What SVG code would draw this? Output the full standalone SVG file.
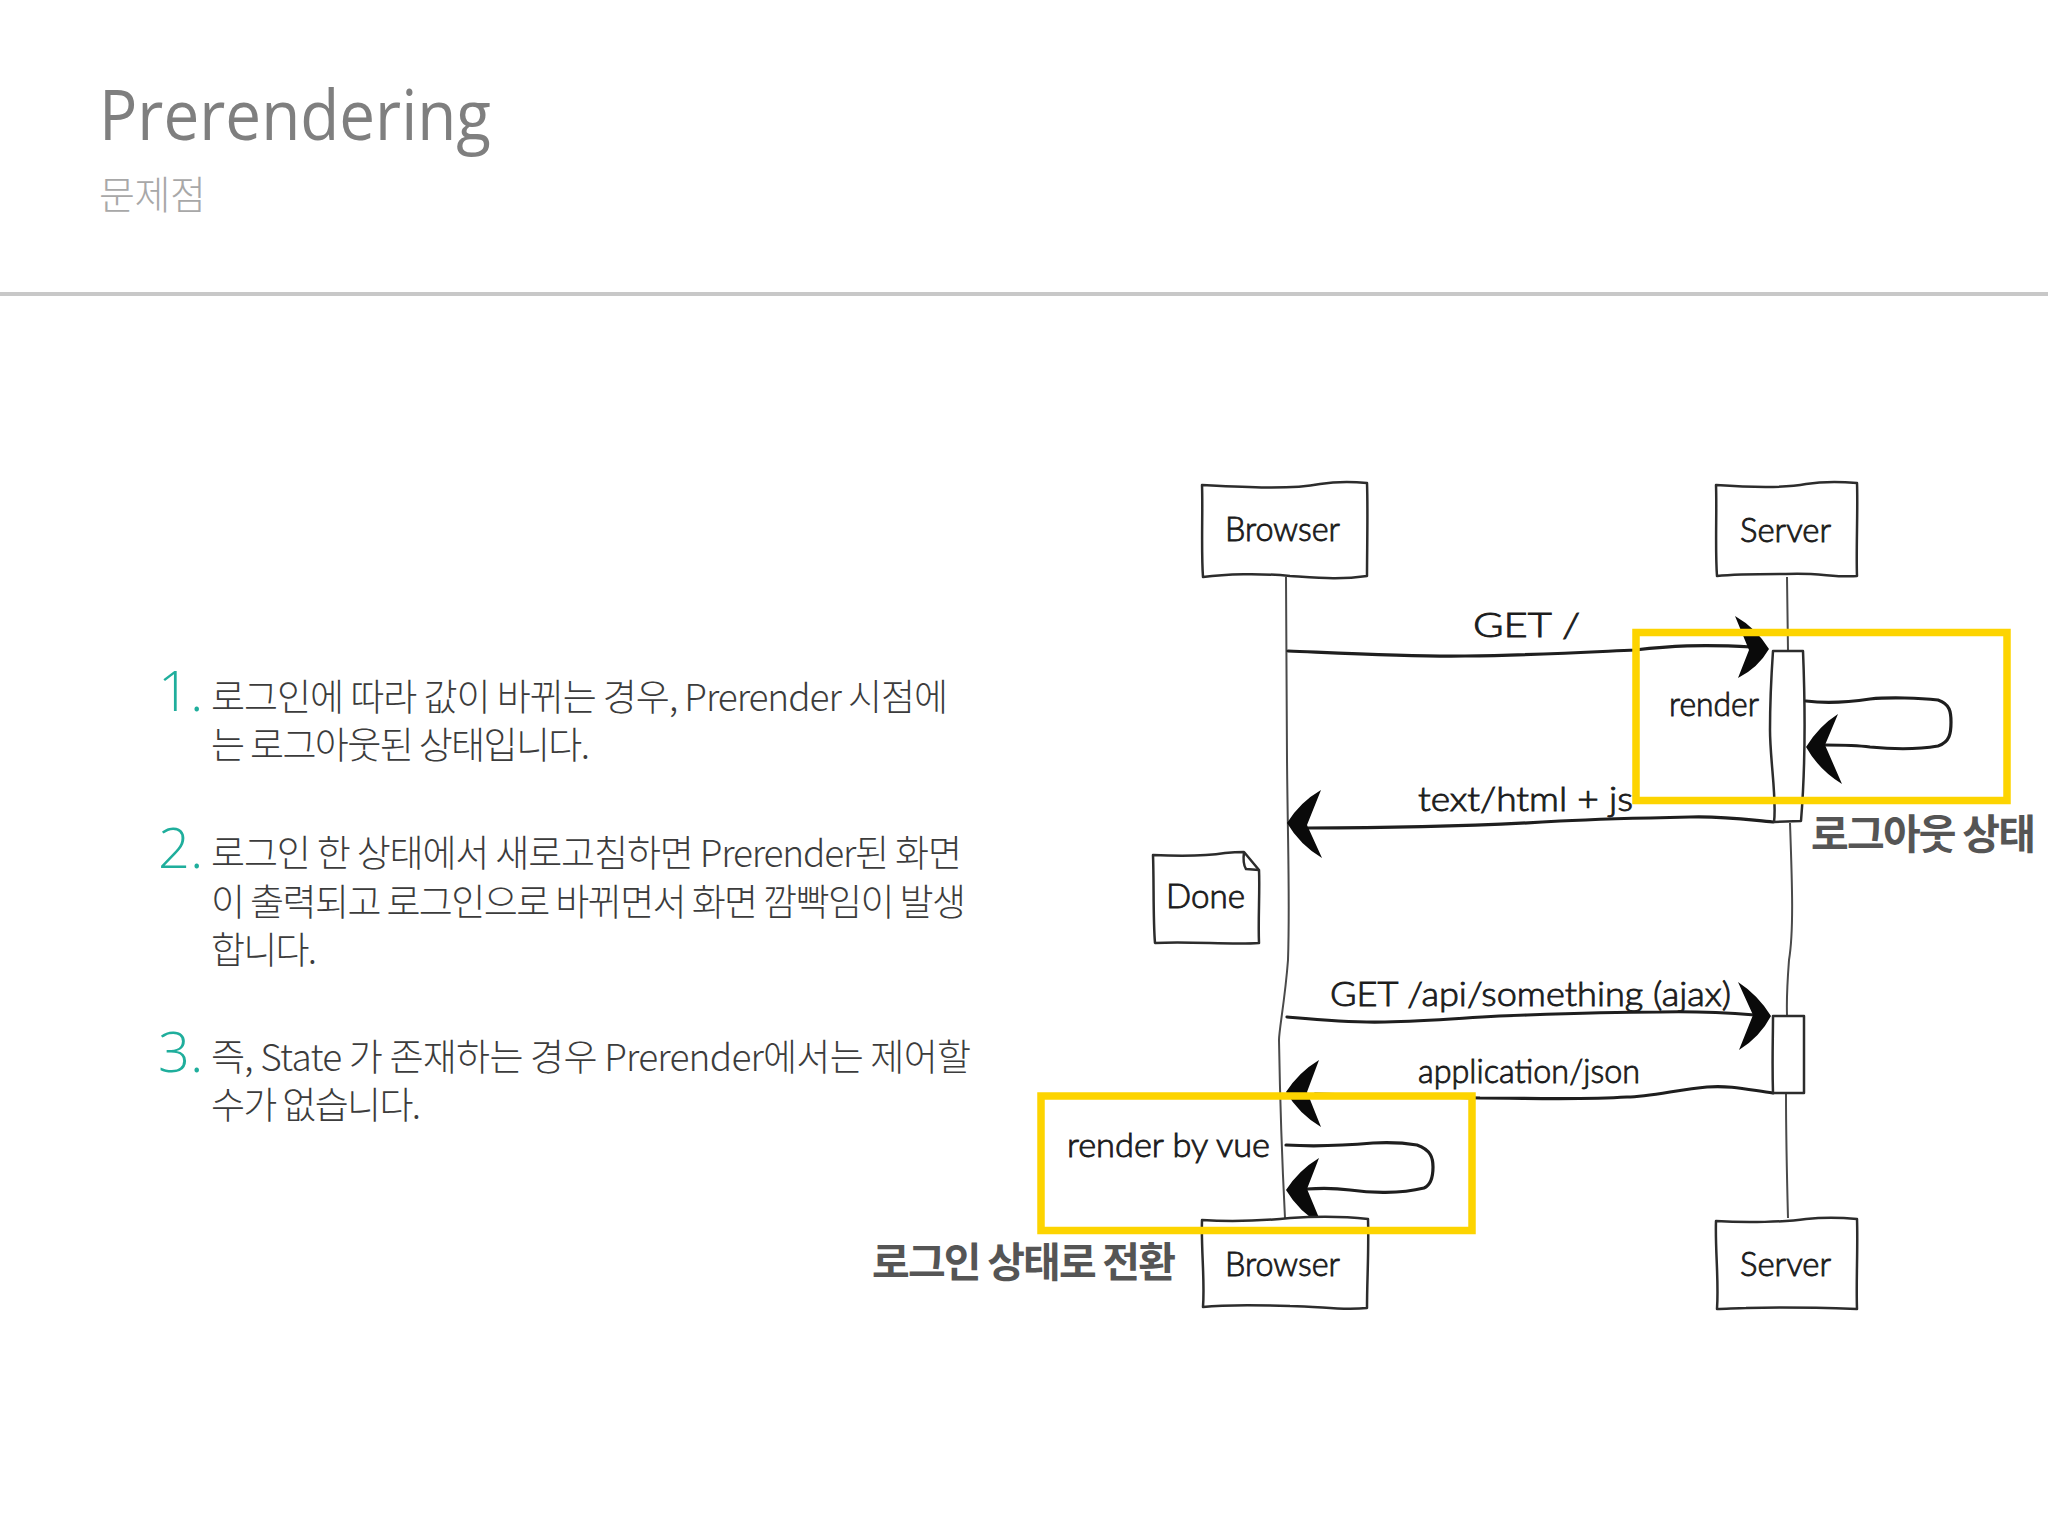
<svg xmlns="http://www.w3.org/2000/svg" width="2048" height="1536" viewBox="0 0 2048 1536">
<style>
.bg{fill:#fff}
.title{font-family:"Open Sans","Noto Sans","Liberation Sans",sans-serif;font-size:70px;fill:#7f7f7f}
.sub{font-family:"Noto Sans CJK KR",sans-serif;font-size:39px;font-weight:300;fill:#a8a8a8}
.num{font-family:"Open Sans","Noto Sans",sans-serif;font-size:56px;font-weight:300;fill:#1fae9c}
.body{font-family:"Noto Sans CJK KR","Noto Sans",sans-serif;font-size:37px;font-weight:300;fill:#3c3c3c}
.note{font-family:"Noto Sans CJK KR",sans-serif;font-size:41px;font-weight:700;fill:#555}
.hand{font-family:"Lato","Liberation Sans",sans-serif;font-size:34px;font-weight:300;fill:#1c1c1c;stroke:#1c1c1c;stroke-width:.9}
.box{fill:#fff;stroke:#2c2c2c;stroke-width:2.5;stroke-linejoin:round}
.life{fill:none;stroke:#4a4a4a;stroke-width:2}
.msg{fill:none;stroke:#1e1e1e;stroke-width:3.2;stroke-linecap:round}
.head{fill:#0a0a0a;stroke:none}
.hl{fill:none;stroke:#fdd400;stroke-width:7.5}
</style>
<rect class="bg" width="2048" height="1536"/>
<rect x="0" y="292" width="2048" height="4" fill="#c8c8c8"/>
<text class="title" x="99" y="140" textLength="392" lengthAdjust="spacingAndGlyphs">Prerendering</text>
<text class="sub" x="99" y="209" textLength="107">문제점</text>

<g id="list">
<text class="num" x="158" y="711">1.</text>
<text class="body" x="211" y="711" textLength="737">로그인에 따라 값이 바뀌는 경우, Prerender 시점에</text>
<text class="body" x="211" y="759" textLength="379">는 로그아웃된 상태입니다.</text>
<text class="num" x="158" y="868">2.</text>
<text class="body" x="211" y="867" textLength="751">로그인 한 상태에서 새로고침하면 Prerender된 화면</text>
<text class="body" x="211" y="916" textLength="755">이 출력되고 로그인으로 바뀌면서 화면 깜빡임이 발생</text>
<text class="body" x="211" y="964" textLength="106">합니다.</text>
<text class="num" x="158" y="1072">3.</text>
<text class="body" x="211" y="1071" textLength="760">즉, State 가 존재하는 경우 Prerender에서는 제어할</text>
<text class="body" x="211" y="1119" textLength="210">수가 없습니다.</text>
</g>

<g id="connectors">
<path class="life" d="M1286 577L1287 760C1288 860 1290 900 1288 960C1285 1000 1279 1030 1279 1040C1280 1100 1282 1160 1285 1218"/>
<path class="life" d="M1787 577L1788 651M1790 823C1792 880 1794 930 1789 960C1786 1000 1787 1010 1787 1016M1786 1093C1786 1130 1787 1180 1788 1218"/>
<path class="msg" d="M1288 651C1360 654 1420 657 1465 656C1540 655 1590 652 1635 650C1670 646 1700 644 1752 647"/>
<path class="head" d="M1769 649Q1756 628 1735 616L1749 650L1738 678Q1758 668 1769 649Z"/>
<path class="msg" d="M1773 822C1750 820 1725 816 1690 817C1640 818 1600 819 1560 821C1480 826 1400 828 1308 828"/>
<path class="head" d="M1287 823Q1300 802 1321 790L1307 825L1322 858Q1300 845 1287 823Z"/>
<path class="msg" d="M1287 1017C1320 1020 1350 1023 1385 1022C1440 1021 1480 1016 1527 1015C1580 1013 1620 1012 1660 1012C1700 1011 1730 1013 1755 1015"/>
<path class="head" d="M1771 1016Q1758 995 1738 982L1753 1015L1739 1050Q1760 1037 1771 1016Z"/>
<path class="msg" d="M1773 1093C1750 1090 1730 1085 1707 1087C1680 1089 1650 1097 1627 1097C1580 1100 1530 1098 1480 1098L1315 1094"/>
<path class="head" d="M1286 1092Q1299 1072 1319 1060L1307 1092L1321 1127Q1299 1114 1286 1092Z"/>
<g id="activation-1">
<path class="box" d="M1773 651L1803 651C1805 700 1806 760 1801 821L1774 822C1777 800 1770 760 1770 730C1770 700 1771 680 1773 651Z"/>
</g>
<g id="activation-2">
<path class="box" d="M1773 1016L1804 1016C1804 1050 1804 1070 1804 1093L1773 1093C1772 1060 1773 1040 1773 1016Z"/>
</g>
<path class="msg" d="M1806 701C1830 704 1850 702 1870 699C1890 697 1920 698 1938 700C1950 704 1951 712 1951 722C1951 733 1950 742 1938 746C1915 750 1890 749 1870 747C1855 745 1840 745 1825 745"/>
<path class="head" d="M1806 747Q1819 726 1838 714L1825 745L1842 784Q1819 770 1806 747Z"/>
<path class="msg" d="M1286 1145C1320 1147 1350 1145 1373 1143C1390 1142 1405 1143 1417 1145C1431 1150 1433 1158 1433 1167C1433 1178 1431 1185 1424 1188C1400 1194 1370 1193 1350 1190C1335 1188 1320 1188 1307 1189"/>
<path class="head" d="M1286 1190Q1299 1170 1319 1158L1307 1189L1322 1225Q1299 1212 1286 1190Z"/>
</g>

<g id="browser-top">
<path class="box" d="M1202 485C1240 487 1290 490 1320 484C1340 481 1355 482 1367 483C1368 510 1367 550 1367 576C1340 580 1320 578 1290 576C1260 573 1225 574 1203 577C1201 550 1203 510 1202 485Z"/>
<text class="hand" x="1225" y="541" textLength="115" lengthAdjust="spacingAndGlyphs">Browser</text>
</g>
<g id="server-top">
<path class="box" d="M1716 485C1746 487 1786 488 1806 484C1826 481 1844 482 1857 483C1858 510 1856 550 1857 576C1836 578 1816 572 1786 574C1766 574 1736 574 1717 576C1715 550 1717 510 1716 485Z"/>
<text class="hand" x="1740" y="542" textLength="91" lengthAdjust="spacingAndGlyphs">Server</text>
</g>
<g id="done">
<path class="box" d="M1153 855C1175 856 1200 857 1225 853C1235 852 1242 852 1244 852L1259 870C1260 890 1258 920 1259 943C1230 945 1190 941 1155 943C1153 920 1154 880 1153 855Z"/>
<path class="box" style="fill:none" d="M1244 852C1243 860 1244 866 1246 869L1259 870"/>
<text class="hand" x="1166" y="908" textLength="79" lengthAdjust="spacingAndGlyphs">Done</text>
</g>
<g id="browser-bottom">
<path class="box" d="M1202 1220C1230 1222 1260 1221 1290 1218C1320 1216 1350 1217 1368 1219C1369 1250 1367 1280 1367 1308C1340 1311 1320 1306 1290 1306C1260 1305 1230 1304 1203 1307C1205 1280 1201 1250 1202 1220Z"/>
<text class="hand" x="1225" y="1276" textLength="115" lengthAdjust="spacingAndGlyphs">Browser</text>
</g>
<g id="server-bottom">
<path class="box" d="M1716 1221C1746 1223 1786 1222 1806 1219C1826 1217 1846 1218 1857 1219C1858 1250 1856 1280 1857 1309C1826 1308 1786 1307 1746 1308C1736 1308 1726 1309 1717 1309C1719 1280 1715 1250 1716 1221Z"/>
<text class="hand" x="1740" y="1276" textLength="91" lengthAdjust="spacingAndGlyphs">Server</text>
</g>

<g id="labels">
<text class="hand" x="1473" y="637" textLength="107" lengthAdjust="spacingAndGlyphs">GET /</text>
<text class="hand" x="1669" y="716" textLength="90" lengthAdjust="spacingAndGlyphs">render</text>
<text class="hand" x="1418" y="811" textLength="215" lengthAdjust="spacingAndGlyphs">text/html + js</text>
<text class="hand" x="1330" y="1006" textLength="401" lengthAdjust="spacingAndGlyphs">GET /api/something (ajax)</text>
<text class="hand" x="1418" y="1083" textLength="222" lengthAdjust="spacingAndGlyphs">application/json</text>
<text class="hand" x="1067" y="1157" textLength="203" lengthAdjust="spacingAndGlyphs">render by vue</text>
</g>

<g id="highlight-logout">
<rect class="hl" x="1636" y="632.5" width="371" height="168"/>
<text class="note" x="1811" y="849" textLength="225">로그아웃 상태</text>
</g>
<g id="highlight-login">
<rect class="hl" x="1041" y="1096" width="431" height="134.5"/>
<text class="note" x="872" y="1277" textLength="304">로그인 상태로 전환</text>
</g>
</svg>
